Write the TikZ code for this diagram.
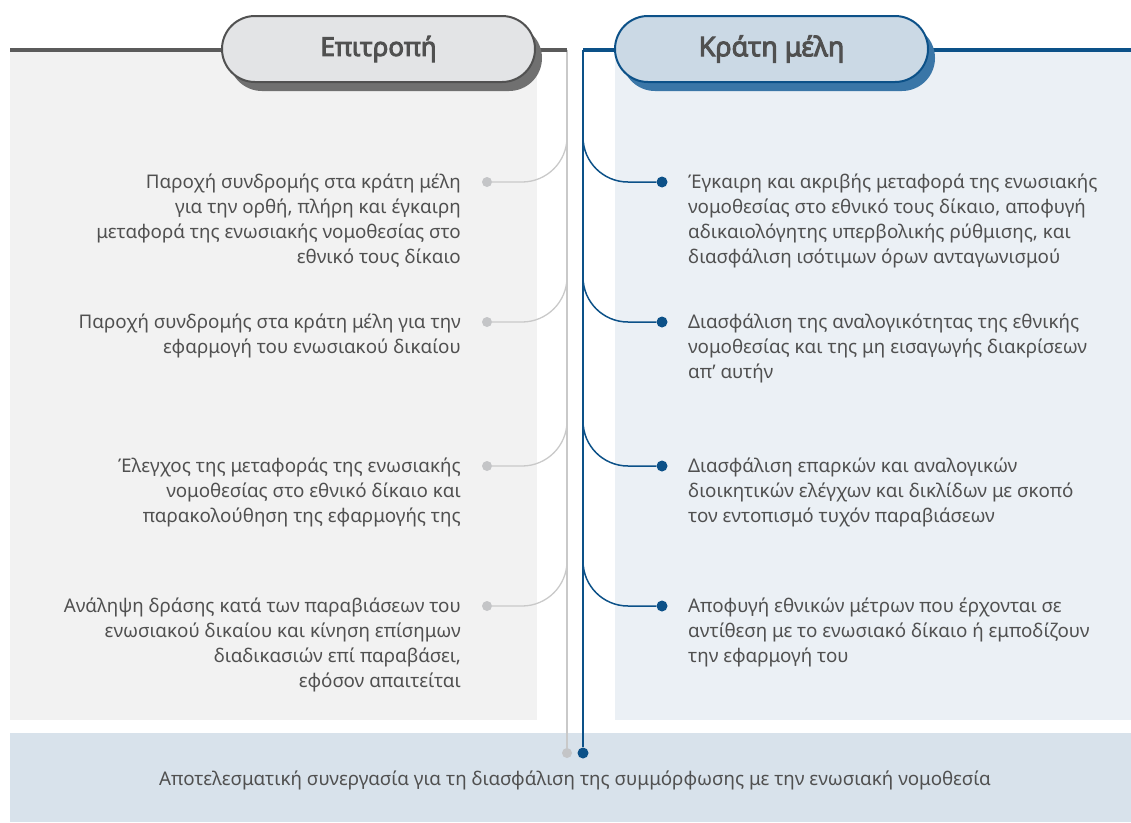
\documentclass[tikz,border=0pt]{standalone}
\usepackage{fontspec}
\setmainfont{Noto Sans}
\newfontfamily\hdrfont{Noto Sans}[FakeBold=3.5]
\usetikzlibrary{shadows}
\definecolor{txtc}{HTML}{505050}
\definecolor{leftbg}{HTML}{F2F2F2}
\definecolor{rightbg}{HTML}{EBF0F5}
\definecolor{bandbg}{HTML}{D8E2EB}
\definecolor{hdrgray}{HTML}{5B5B5B}
\definecolor{glinec}{HTML}{C9C9C9}
\definecolor{gdotc}{HTML}{C4C5C7}
\definecolor{bluec}{HTML}{0C5188}
\definecolor{lpillfill}{HTML}{E3E4E6}
\definecolor{lpilldraw}{HTML}{515151}
\definecolor{lshadow}{HTML}{707070}
\definecolor{rpillfill}{HTML}{CBD9E5}
\definecolor{rshadow}{HTML}{3A76A7}
\begin{document}
\begin{tikzpicture}[x=1pt,y=-1pt,
  txt/.style={font=\fontsize{18.8}{25}\selectfont, text=txtc, inner sep=0pt},
  ltxt/.style={txt, align=right, anchor=base east},
  rtxt/.style={txt, align=left, anchor=base west},
  gdot/.style={circle, fill=gdotc, inner sep=0pt, minimum size=10pt},
  bdot/.style={circle, fill=bluec, inner sep=0pt, minimum size=11pt},
  gline/.style={draw=glinec, line width=1.3pt},
  bline/.style={draw=bluec, line width=1.5pt},
  pill/.style={rectangle, rounded corners=33pt, minimum width=313pt, minimum height=66pt,
    line width=2pt, font=\hdrfont\fontsize{26}{30}\selectfont, text=txtc},
  lpill/.style={pill, draw=lpilldraw, fill=lpillfill,
    copy shadow={shadow xshift=7pt, shadow yshift=-9pt, fill=lshadow, draw=none}},
  rpill/.style={pill, draw=bluec, fill=rpillfill,
    copy shadow={shadow xshift=7pt, shadow yshift=-9pt, fill=rshadow, draw=none}},
]
\useasboundingbox (0,0) rectangle (1131,822);
\fill[leftbg] (10,50) rectangle (537,720);
\fill[rightbg] (615,50) rectangle (1131,720);
\fill[bandbg] (10,733) rectangle (1131,822);

\coordinate (gtop) at (567,50);
\coordinate (btop) at (583,50);
\coordinate (lstart) at (10,50);
\coordinate (rend) at (1131,50);
\node[gdot] (gend) at (567,753) {};
\node[bdot] (bend) at (583,753) {};
\draw[gline] (gtop) -- (gend);
\draw[bline, line width=1.8pt] (btop) -- (bend);
\draw[hdrgray, line width=4pt] (lstart) -- (gtop);
\draw[bluec, line width=4pt] (btop) -- (rend);

\node[lpill] (lhead) at (378.5,49) {Επιτροπή};
\node[rpill] (rhead) at (771.5,49) {\fontsize{27}{30}\selectfont Κράτη μέλη};

% branches
\foreach \i/\y in {1/182,2/322,3/466,4/606}{
  \node[gdot] (gd\i) at (487,\y) {};
  \coordinate (gb\i) at (567,\y-70);
  \draw[gline, rounded corners=45pt] (gb\i) |- (gd\i);
  \node[bdot] (bd\i) at (662,\y) {};
  \coordinate (bb\i) at (583,\y-70);
  \draw[bline, rounded corners=45pt] (bb\i) |- (bd\i);
}

\node[ltxt] (l1) at (461,263) {Παροχή συνδρομής στα κράτη μέλη\\για την ορθή, πλήρη και έγκαιρη\\μεταφορά της ενωσιακής νομοθεσίας στο\\εθνικό τους δίκαιο};
\node[ltxt] (l2) at (461,353) {Παροχή συνδρομής στα κράτη μέλη για την\\εφαρμογή του ενωσιακού δικαίου};
\node[ltxt] (l3) at (461,522) {Έλεγχος της μεταφοράς της ενωσιακής\\νομοθεσίας στο εθνικό δίκαιο και\\παρακολούθηση της εφαρμογής της};
\node[ltxt] (l4) at (461,687) {Ανάληψη δράσης κατά των παραβιάσεων του\\ενωσιακού δικαίου και κίνηση επίσημων\\διαδικασιών επί παραβάσει,\\εφόσον απαιτείται};

\node[rtxt] (r1) at (688,263) {Έγκαιρη και ακριβής μεταφορά της ενωσιακής\\νομοθεσίας στο εθνικό τους δίκαιο, αποφυγή\\αδικαιολόγητης υπερβολικής ρύθμισης, και\\διασφάλιση ισότιμων όρων ανταγωνισμού};
\node[rtxt] (r2) at (688,378) {Διασφάλιση της αναλογικότητας της εθνικής\\νομοθεσίας και της μη εισαγωγής διακρίσεων\\απ’ αυτήν};
\node[rtxt] (r3) at (688,522) {Διασφάλιση επαρκών και αναλογικών\\διοικητικών ελέγχων και δικλίδων με σκοπό\\τον εντοπισμό τυχόν παραβιάσεων};
\node[rtxt] (r4) at (688,662) {Αποφυγή εθνικών μέτρων που έρχονται σε\\αντίθεση με το ενωσιακό δίκαιο ή εμποδίζουν\\την εφαρμογή του};

\node[txt, anchor=base] (band) at (575,785) {Αποτελεσματική συνεργασία για τη διασφάλιση της συμμόρφωσης με την ενωσιακή νομοθεσία};
\end{tikzpicture}
\end{document}
